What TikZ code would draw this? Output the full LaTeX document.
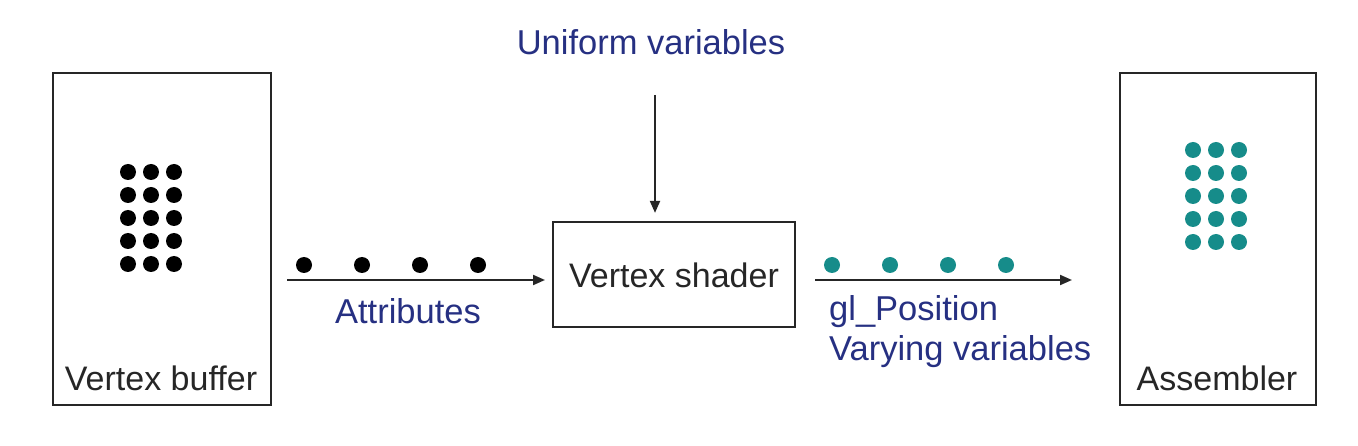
\documentclass[tikz,border=0pt]{standalone}
\usepackage{fontspec}
\setmainfont{Liberation Sans}
\usetikzlibrary{arrows.meta}
\definecolor{lbl}{RGB}{38,48,130}
\definecolor{teal2}{RGB}{22,140,138}
\begin{document}
\begin{tikzpicture}[x=1pt,y=-1pt,
  box/.style={draw=black!85,line width=2.2pt,inner sep=0pt},
  conn/.style={draw=black!85,line width=2pt,-{Triangle[length=12pt,width=10pt]}},
  lbltext/.style={text=lbl,font=\fontsize{34.5}{40}\selectfont,inner sep=0pt},
  boxtext/.style={text=black!85,font=\fontsize{34}{40}\selectfont,inner sep=0pt},
  bdot/.style={circle,fill=black,inner sep=0pt,minimum size=16pt},
  tdot/.style={circle,fill=teal2,inner sep=0pt,minimum size=16pt}]
\useasboundingbox (0,0) rectangle (1358,446);
% boxes
\node[box,minimum width=218pt,minimum height=332pt] (vb) at (162,239) {};
\node[box,minimum width=242pt,minimum height=105pt] (vs) at (674,274.5) {};
\node[box,minimum width=196pt,minimum height=332pt] (as) at (1218,239) {};
\node[boxtext] (vbt) at (161,378) {Vertex buffer};
\node[boxtext] (vst) at (674,275) {Vertex shader};
\node[boxtext] (ast) at (1217,378) {Assembler};
% grids
\foreach \r [count=\i] in {172,195,218,241,264}{
  \foreach \c [count=\j] in {128,151,174}{
    \node[bdot] (b\i\j) at (\c,\r) {};
  }
}
\foreach \r [count=\i] in {150,173,196,219,242}{
  \foreach \c [count=\j] in {1193,1216,1239}{
    \node[tdot] (t\i\j) at (\c,\r) {};
  }
}
% streams
\foreach \c [count=\k] in {304,362,420,478}{\node[bdot] (a\k) at (\c,265) {};}
\foreach \c [count=\k] in {832,890,948,1006}{\node[tdot] (v\k) at (\c,265) {};}
% connectors
\coordinate (s1) at (287,280);
\coordinate (e1) at (545,280);
\coordinate (s2) at (815,280);
\coordinate (e2) at (1072,280);
\draw[conn] (s1) -- (e1);
\draw[conn] (s2) -- (e2);
\node[lbltext] (uv) at (651,42) {Uniform variables};
\coordinate (u1) at (655,95);
\draw[conn] (u1) -- ([yshift=8pt]vs.north -| u1);
% labels
\node[lbltext] (attr) at (408,311) {Attributes};
\node[lbltext,anchor=west] (glp) at (829,312) {gl\_Position};
\node[lbltext,anchor=west] (vv) at (829,352) {Varying variables};
\end{tikzpicture}
\end{document}
